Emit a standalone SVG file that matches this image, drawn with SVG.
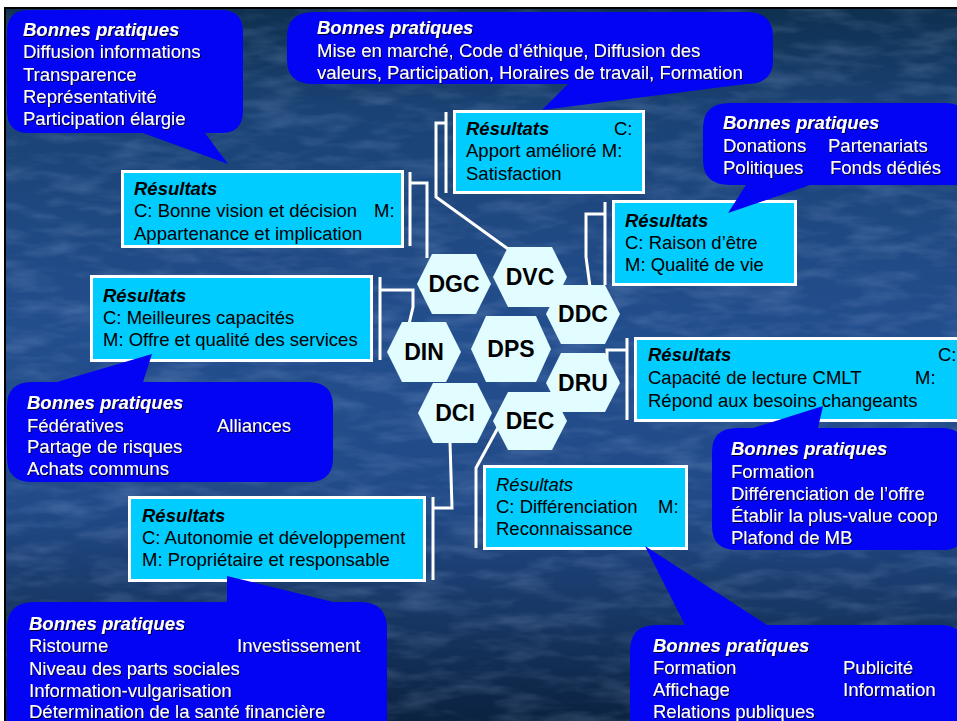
<svg xmlns="http://www.w3.org/2000/svg" width="957" height="721" viewBox="0 0 957 721">
<defs>
<linearGradient id="bg" x1="0" y1="0" x2="0" y2="1">
<stop offset="0" stop-color="#0e3050"/>
<stop offset="0.14" stop-color="#1a4274"/>
<stop offset="0.45" stop-color="#234e8d"/>
<stop offset="0.7" stop-color="#214a87"/>
<stop offset="0.88" stop-color="#15335d"/>
<stop offset="1" stop-color="#0b2240"/>
</linearGradient>
<filter id="tex" x="0" y="0" width="100%" height="100%">
<feTurbulence type="fractalNoise" baseFrequency="0.02 0.07" numOctaves="3" seed="7"/>
<feColorMatrix type="matrix" values="0 0 0 0 0.55  0 0 0 0 0.7  0 0 0 0 1  1.3 0 0 0 -0.55"/>
</filter>
<filter id="sh" x="-5%" y="-20%" width="110%" height="140%">
<feDropShadow dx="1" dy="1" stdDeviation="0.4" flood-color="#000" flood-opacity="0.85"/>
</filter>
</defs>
<style>
.t{font-family:"Liberation Sans",Arial,sans-serif;font-size:18.5px}
.w{fill:#fff}
.k{fill:#000}
.h{font-weight:bold;font-style:italic}
.i{font-style:italic}
.co{fill:#0404f4}
.box{fill:#00ccff;stroke:#fff;stroke-width:3}
.hex{fill:#e2fdff}
.hl{font-family:"Liberation Sans",Arial,sans-serif;font-size:23px;font-weight:bold;fill:#000;text-anchor:middle}
.ln{fill:none;stroke:#fff;stroke-width:3}
</style>
<rect width="957" height="721" fill="#fff"/>
<rect x="4" y="7" width="953" height="714" fill="#000"/>
<rect x="6" y="9" width="951" height="712" fill="url(#bg)"/>
<rect x="6" y="9" width="951" height="712" filter="url(#tex)" opacity="0.3"/>

<g id="connectors">
<path class="ln" d="M446,112 V193 M446,123 H436 V197 L515,254"/>
<path class="ln" d="M410,172 V246 M410,183 H427 V258"/>
<path class="ln" d="M380,277 V360 M380,290 H413 V307 L409,324"/>
<path class="ln" d="M605,202 V285 M605,214 H586 V257 L590,287"/>
<path class="ln" d="M627,338 V420 M627,350 H607 V363 L618,382"/>
<path class="ln" d="M433,497 V580 M433,508 H452 L450,442"/>
<path class="ln" d="M476,548 V468 L500,424"/>
</g>

<g id="hex-DGC"><polygon class="hex" points="417,284 432,254 476,254 491,284 476,314 432,314"/><text class="hl" x="454" y="292">DGC</text></g>
<g id="hex-DVC"><polygon class="hex" points="493,277 508,247 552,247 567,277 552,307 508,307"/><text class="hl" x="530" y="285">DVC</text></g>
<g id="hex-DDC"><polygon class="hex" points="546,314 561,285 605,285 620,314 605,344 561,344"/><text class="hl" x="583" y="322">DDC</text></g>
<g id="hex-DIN"><polygon class="hex" points="387,352 402,322 446,322 461,352 446,382 402,382"/><text class="hl" x="424" y="360">DIN</text></g>
<g id="hex-DPS"><polygon class="hex" points="471,349 486,316 536,316 551,349 536,382 486,382"/><text class="hl" x="511" y="357">DPS</text></g>
<g id="hex-DRU"><polygon class="hex" points="546,383 561,353 605,353 620,383 605,412 561,412"/><text class="hl" x="583" y="391">DRU</text></g>
<g id="hex-DCI"><polygon class="hex" points="418,413 433,383 477,383 492,413 477,443 433,443"/><text class="hl" x="455" y="421">DCI</text></g>
<g id="hex-DEC"><polygon class="hex" points="493,421 508,392 552,392 567,421 552,450 508,450"/><text class="hl" x="530" y="429">DEC</text></g>

<g id="res-DGC">
<rect class="box" x="122.5" y="171.5" width="280" height="75"/>
<text class="t k" x="134" y="195"><tspan class="h">Résultats</tspan><tspan x="134" y="217">C: Bonne vision et décision</tspan><tspan x="374" y="217">M:</tspan><tspan x="134" y="240">Appartenance et implication</tspan></text>
</g>
<g id="res-DVC">
<rect class="box" x="454.5" y="111.5" width="189" height="81"/>
<text class="t k" x="466" y="135"><tspan class="h">Résultats</tspan><tspan x="614" y="135">C:</tspan><tspan x="466" y="157">Apport amélioré M:</tspan><tspan x="466" y="180">Satisfaction</tspan></text>
</g>
<g id="res-DDC">
<rect class="box" x="613.5" y="201.5" width="182" height="83"/>
<text class="t k" x="625" y="227"><tspan class="h">Résultats</tspan><tspan x="625" y="249">C: Raison d’être</tspan><tspan x="625" y="271">M: Qualité de vie</tspan></text>
</g>
<g id="res-DIN">
<rect class="box" x="91.5" y="276.5" width="280" height="84"/>
<text class="t k" x="103" y="302"><tspan class="h">Résultats</tspan><tspan x="103" y="324">C: Meilleures capacités</tspan><tspan x="103" y="346">M: Offre et qualité des services</tspan></text>
</g>
<g id="res-DRU">
<rect class="box" x="635.5" y="338.5" width="330" height="82"/>
<text class="t k" x="648" y="361"><tspan class="h">Résultats</tspan><tspan x="938" y="361">C:</tspan><tspan x="648" y="384">Capacité de lecture CMLT</tspan><tspan x="915" y="384">M:</tspan><tspan x="648" y="407">Répond aux besoins changeants</tspan></text>
</g>
<g id="res-DCI">
<rect class="box" x="129.5" y="497.5" width="295" height="83"/>
<text class="t k" x="142" y="522"><tspan class="h">Résultats</tspan><tspan x="142" y="544">C: Autonomie et développement</tspan><tspan x="142" y="566">M: Propriétaire et responsable</tspan></text>
</g>
<g id="res-DEC">
<rect class="box" x="484.5" y="466.5" width="202" height="82"/>
<text class="t k" x="496" y="491"><tspan class="i">Résultats</tspan><tspan x="496" y="513">C: Différenciation</tspan><tspan x="658" y="513">M:</tspan><tspan x="496" y="535">Reconnaissance</tspan></text>
</g>

<g id="bp-DGC">
<path class="co" d="M29,10 H221 Q243,10 243,32 V111 Q243,133 221,133 H205 L228,164 L143,133 H29 Q7,133 7,111 V32 Q7,10 29,10 Z"/>
<text class="t w" filter="url(#sh)" x="23" y="36"><tspan class="h">Bonnes pratiques</tspan><tspan x="23" y="58">Diffusion informations</tspan><tspan x="23" y="81">Transparence</tspan><tspan x="23" y="103">Représentativité</tspan><tspan x="23" y="125">Participation élargie</tspan></text>
</g>
<g id="bp-DVC">
<path class="co" d="M314,12 H746 Q773,12 773,37 V60 Q773,84 746,84 L542,110 L568,84 H314 Q287,84 287,60 V37 Q287,12 314,12 Z"/>
<text class="t w" filter="url(#sh)" x="317" y="34"><tspan class="h">Bonnes pratiques</tspan><tspan x="317" y="57">Mise en marché, Code d’éthique, Diffusion des</tspan><tspan x="317" y="79">valeurs, Participation, Horaires de travail, Formation</tspan></text>
</g>
<g id="bp-DDC">
<path class="co" d="M730,103 H945 Q968,103 968,126 V185 H810 L728,213 L746,185 H730 Q703,185 703,160 V128 Q703,103 730,103 Z"/>
<text class="t w" filter="url(#sh)" x="723" y="129"><tspan class="h">Bonnes pratiques</tspan><tspan x="723" y="152">Donations</tspan><tspan x="828" y="152">Partenariats</tspan><tspan x="723" y="174">Politiques</tspan><tspan x="830" y="174">Fonds dédiés</tspan></text>
</g>
<g id="bp-DIN">
<path class="co" d="M32,382 H57 L152,354 L143,382 H308 Q333,382 333,406 V458 Q333,482 308,482 H32 Q7,482 7,458 V406 Q7,382 32,382 Z"/>
<text class="t w" filter="url(#sh)" x="27" y="409"><tspan class="h">Bonnes pratiques</tspan><tspan x="27" y="432">Fédératives</tspan><tspan x="217" y="432">Alliances</tspan><tspan x="27" y="453">Partage de risques</tspan><tspan x="27" y="475">Achats communs</tspan></text>
</g>
<g id="bp-DRU">
<path class="co" d="M737,428 H753 L823,406 L818,428 H942 Q965,428 965,451 V527 Q965,550 942,550 H737 Q712,550 712,526 V452 Q712,428 737,428 Z"/>
<text class="t w" filter="url(#sh)" x="731" y="455"><tspan class="h">Bonnes pratiques</tspan><tspan x="731" y="478">Formation</tspan><tspan x="731" y="500">Différenciation de l’offre</tspan><tspan x="731" y="522">Établir la plus-value coop</tspan><tspan x="731" y="544">Plafond de MB</tspan></text>
</g>
<g id="bp-DCI">
<path class="co" d="M34,602 H227 V576 L333,602 H360 Q387,602 387,629 V740 H7 V629 Q7,602 34,602 Z"/>
<text class="t w" filter="url(#sh)" x="29" y="630"><tspan class="h">Bonnes pratiques</tspan><tspan x="29" y="652">Ristourne</tspan><tspan x="237" y="652">Investissement</tspan><tspan x="29" y="675">Niveau des parts sociales</tspan><tspan x="29" y="697">Information-vulgarisation</tspan><tspan x="29" y="718">Détermination de la santé financière</tspan></text>
</g>
<g id="bp-DEC">
<path class="co" d="M656,625 H685 L645,546 L767,625 H940 Q965,625 965,648 V740 H630 V651 Q630,625 656,625 Z"/>
<text class="t w" filter="url(#sh)" x="653" y="652"><tspan class="h">Bonnes pratiques</tspan><tspan x="653" y="674">Formation</tspan><tspan x="843" y="674">Publicité</tspan><tspan x="653" y="696">Affichage</tspan><tspan x="843" y="696">Information</tspan><tspan x="653" y="718">Relations publiques</tspan></text>
</g>
</svg>
